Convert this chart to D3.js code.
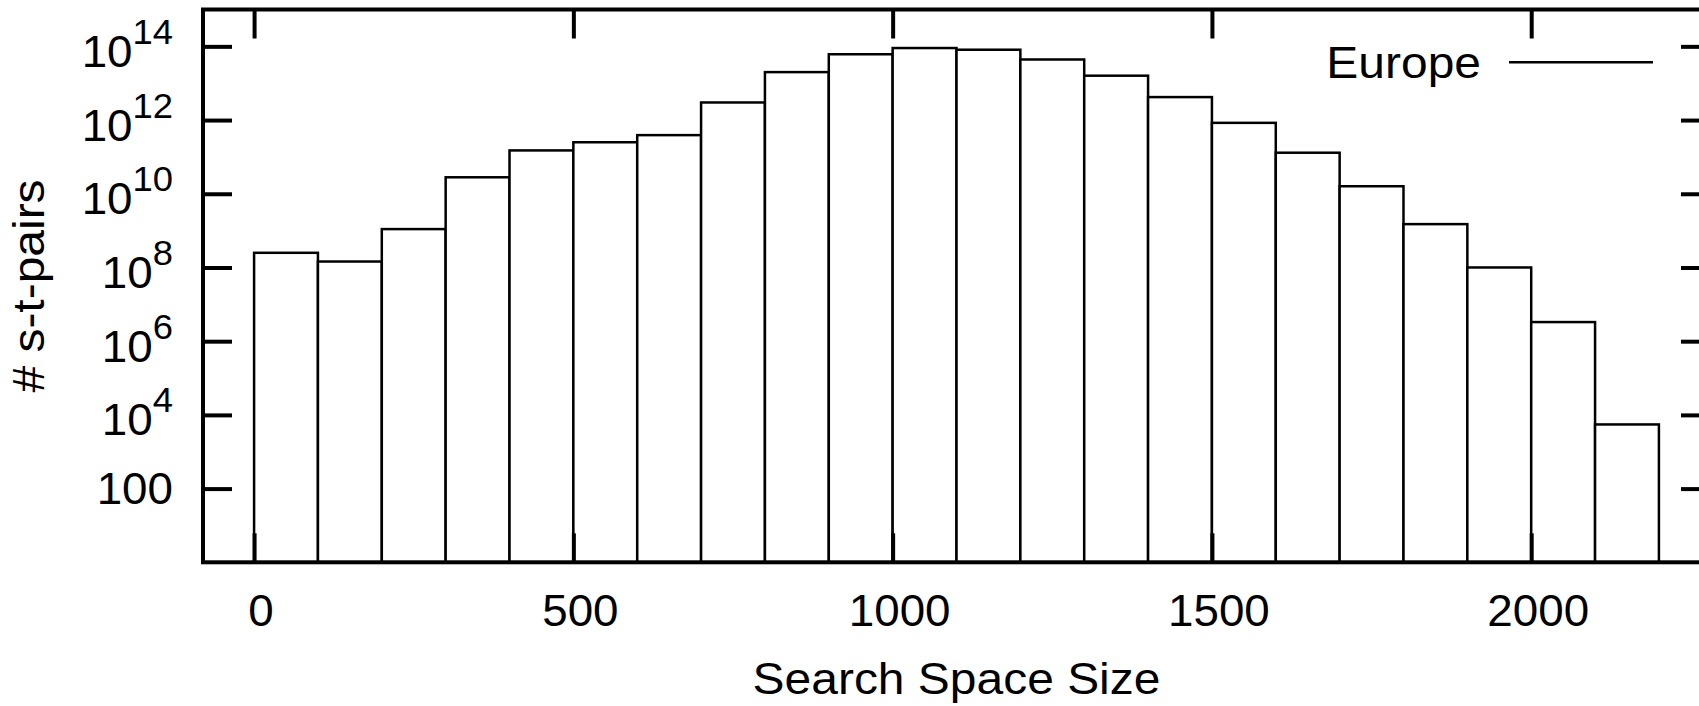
<!DOCTYPE html>
<html>
<head>
<meta charset="utf-8">
<script src="https://cdn.jsdelivr.net/npm/d3@7"></script>
<style>
  html, body { margin: 0; padding: 0; background: #fff; overflow: hidden; }
  text { font-family: "Liberation Sans", Arial, Helvetica, sans-serif; fill: #000; }
</style>
</head>
<body>
<script>
// ---------------- data ----------------
const binStart = [0, 100, 200, 300, 400, 500, 600, 700, 800, 900, 1000,
                  1100, 1200, 1300, 1400, 1500, 1600, 1700, 1800, 1900, 2000, 2100];
const binWidth = 100;
const pairCounts = [2.5e8, 1.45e8, 1.1e9, 2.8e10, 1.5e11, 2.5e11, 3.9e11, 3.0e12,
                    2.0e13, 6.1e13, 9.0e13, 8.1e13, 4.4e13, 1.6e13, 4.2e12, 8.4e11,
                    1.3e11, 1.6e10, 1.5e9, 1.0e8, 3.3e6, 5.5e3];
const seriesName = "Europe";
const xTickValues = [0, 500, 1000, 1500, 2000];
const yTickValues = [1e2, 1e4, 1e6, 1e8, 1e10, 1e12, 1e14];
const yTickBases = ["100", "10", "10", "10", "10", "10", "10"];
const yTickExps  = ["", "4", "6", "8", "10", "12", "14"];
const xTitle = "Search Space Size";
const yTitle = "# s-t-pairs";

// ---------------- layout ----------------
const W = 1699, H = 706;
const L = 203, R = 1710, T = 9.5, B = 562.3;
const FS = 44, SX = 1.09, SXT = 1.04, TICK = 29;

const svg = d3.select("body").append("svg")
  .attr("width", W).attr("height", H);

const x = d3.scaleLinear().domain([-80, 2280]).range([L, R]);
const y = d3.scaleLog().domain([1, 1e15]).range([B, T]);

// bars
svg.append("g").selectAll("rect")
  .data(d3.zip(binStart, pairCounts))
  .join("rect")
  .attr("x", d => x(d[0]))
  .attr("width", d => x(d[0] + binWidth) - x(d[0]))
  .attr("y", d => y(d[1]))
  .attr("height", d => y.range()[0] - y(d[1]))
  .attr("fill", "#fff")
  .attr("stroke", "#000")
  .attr("stroke-width", 2.5);

// frame
svg.append("rect")
  .attr("x", L).attr("y", T).attr("width", R - L).attr("height", B - T)
  .attr("fill", "none").attr("stroke", "#000").attr("stroke-width", 4);

function styleAxis(g) {
  g.select(".domain").remove();
  g.selectAll(".tick line").attr("stroke", "#000").attr("stroke-width", 4);
  g.attr("font-family", null).attr("font-size", FS);
}

// bottom axis
const gx = svg.append("g").attr("transform", `translate(0,${B})`)
  .call(d3.axisBottom(x).tickValues(xTickValues).tickSizeInner(-TICK).tickSizeOuter(0).tickFormat(d3.format("d")));
styleAxis(gx);
gx.selectAll(".tick text")
  .attr("y", null).attr("dy", null)
  .attr("text-anchor", "middle")
  .attr("transform", `translate(6.5,63.7) scale(${SXT},1)`);

// top axis (ticks only)
const gt = svg.append("g").attr("transform", `translate(0,${T})`)
  .call(d3.axisTop(x).tickValues(xTickValues).tickSizeInner(-TICK).tickSizeOuter(0).tickFormat(""));
styleAxis(gt);

// left axis
const gy = svg.append("g").attr("transform", `translate(${L},0)`)
  .call(d3.axisLeft(y).tickValues(yTickValues).tickSizeInner(-TICK).tickSizeOuter(0).tickFormat(""));
styleAxis(gy);
gy.selectAll(".tick text").each(function(d, i) {
  const t = d3.select(this);
  t.attr("x", null).attr("dy", null).attr("text-anchor", "end").text(null);
  const off = yTickExps[i] ? 20 : 15.4;
  t.attr("transform", `translate(-30,${off}) scale(${SXT},1)`);
  t.append("tspan").text(yTickBases[i]);
  if (yTickExps[i]) {
    t.append("tspan").attr("font-size", 35).attr("dy", -23).text(yTickExps[i]);
  }
});

// right axis (ticks only)
const gr = svg.append("g").attr("transform", `translate(${R},0)`)
  .call(d3.axisRight(y).tickValues(yTickValues).tickSizeInner(-TICK).tickSizeOuter(0).tickFormat(""));
styleAxis(gr);

// axis titles
svg.append("text")
  .attr("transform", `translate(${(L + R) / 2},694) scale(${SX},1)`)
  .attr("text-anchor", "middle").attr("font-size", FS)
  .text(xTitle);

svg.append("text")
  .attr("transform", `translate(43.5,286) rotate(-90) scale(${SX},1)`)
  .attr("text-anchor", "middle").attr("font-size", FS)
  .text(yTitle);

// legend
svg.append("text")
  .attr("transform", `translate(1481,78) scale(${SX},1)`)
  .attr("text-anchor", "end").attr("font-size", FS)
  .text(seriesName);
svg.append("line")
  .attr("x1", 1509).attr("x2", 1653).attr("y1", 62.3).attr("y2", 62.3)
  .attr("stroke", "#000").attr("stroke-width", 2.5);
</script>
</body>
</html>
